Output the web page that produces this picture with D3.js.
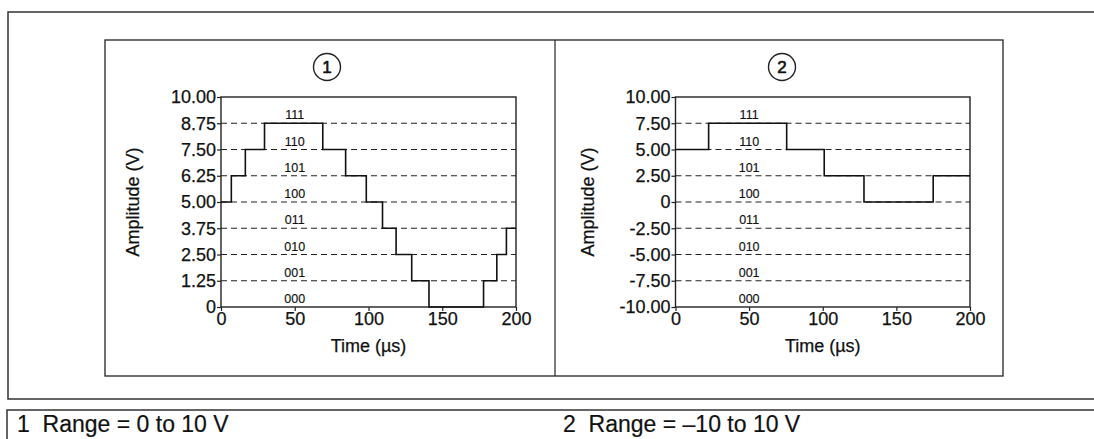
<!DOCTYPE html>
<html>
<head>
<meta charset="utf-8">
<script src="https://cdn.jsdelivr.net/npm/d3@7"></script>
<style>
  body { margin: 0; background: #fff; }
  svg text { font-family: "Liberation Sans", Arial, sans-serif; fill: #111; stroke: #111; stroke-width: 0.25px; }
</style>
</head>
<body>
<div id="chart"></div>
<script>
// Data
const bitCodes = ["000", "001", "010", "011", "100", "101", "110", "111"];
const xTicks = [0, 50, 100, 150, 200];

// Range 1: 0 to 10 V
const range1Ticks = [0, 1.25, 2.5, 3.75, 5, 6.25, 7.5, 8.75, 10];
const range1Times = [0, 7, 16.5, 29.5, 69, 84.5, 98.5, 109.5, 118.7, 129.3, 141, 178, 187, 193.5, 200];
const range1Levels = [5, 6.25, 7.5, 8.75, 7.5, 6.25, 5, 3.75, 2.5, 1.25, 0, 1.25, 2.5, 3.75];

// Range 2: -10 to 10 V
const range2Ticks = [-10, -7.5, -5, -2.5, 0, 2.5, 5, 7.5, 10];
const range2Times = [0, 22.5, 75.5, 101, 128, 175, 200];
const range2Levels = [5, 7.5, 5, 2.5, 0, 2.5];

const legendItems = ["1  Range = 0 to 10 V", "2  Range = \u201310 to 10 V"];

function init() {
  const svg = d3.select("#chart")
    .append("svg")
    .attr("width", 1094)
    .attr("height", 439);

  // outer frames
  svg.append("path")
    .attr("d", "M1100,12H8V399H1100")
    .attr("fill", "none").attr("stroke", "#333").attr("stroke-width", 1.5);
  svg.append("path")
    .attr("d", "M1100,410H7V445")
    .attr("fill", "none").attr("stroke", "#333").attr("stroke-width", 1.5);
  svg.append("rect")
    .attr("x", 105).attr("y", 40).attr("width", 898).attr("height", 336)
    .attr("fill", "none").attr("stroke", "#222").attr("stroke-width", 1.3);
  svg.append("line")
    .attr("x1", 555).attr("x2", 555).attr("y1", 40).attr("y2", 376)
    .attr("stroke", "#222").attr("stroke-width", 1.2);

  // legend
  svg.selectAll(".legend")
    .data(legendItems)
    .enter()
    .append("text")
    .attr("class", "legend")
    .attr("x", (d, i) => i === 0 ? 17 : 563)
    .attr("y", 432)
    .attr("xml:space", "preserve")
    .style("font-size", "23px")
    .style("stroke-width", "0.2px")
    .text(d => d);

  drawPanel(svg, {
    left: 221, right: 516, top: 97, bottom: 307,
    domain: [0, 10], ticks: range1Ticks,
    times: range1Times, levels: range1Levels,
    label: "1", circleX: 327, titleX: 133
  });
  drawPanel(svg, {
    left: 675.5, right: 970, top: 97, bottom: 307,
    domain: [-10, 10], ticks: range2Ticks,
    times: range2Times, levels: range2Levels,
    label: "2", circleX: 782, titleX: 588
  });
}

function drawPanel(svg, p) {
  const x = d3.scaleLinear().domain([0, 200]).range([p.left, p.right]);
  const y = d3.scaleLinear().domain(p.domain).range([p.bottom, p.top]);
  const g = svg.append("g");

  // dashed quantization levels
  g.selectAll(".level")
    .data(p.ticks.slice(1, -1))
    .enter()
    .append("line")
    .attr("x1", p.left).attr("x2", p.right)
    .attr("y1", d => y(d)).attr("y2", d => y(d))
    .attr("stroke", "#222")
    .attr("stroke-width", 1.2)
    .attr("stroke-dasharray", "6,4");

  // bit code labels
  g.selectAll(".code")
    .data(bitCodes)
    .enter()
    .append("text")
    .attr("x", x(50))
    .attr("y", (d, i) => y(p.ticks[i]) - 4)
    .attr("text-anchor", "middle")
    .style("font-size", "12.5px")
    .style("stroke-width", "0.15px")
    .text(d => d);

  // axes
  const fmt = d => d === 0 ? "0" : d.toFixed(2);
  const yAxis = g.append("g")
    .attr("transform", `translate(${p.left},0)`)
    .call(d3.axisLeft(y).tickValues(p.ticks).tickFormat(fmt).tickSize(4).tickPadding(1));
  const xAxis = g.append("g")
    .attr("transform", `translate(0,${p.bottom})`)
    .call(d3.axisBottom(x).tickValues(xTicks).tickSize(4).tickPadding(1));
  [xAxis, yAxis].forEach(a => {
    a.select(".domain").remove();
    a.selectAll("line").attr("stroke", "#222").attr("stroke-width", 1.2);
    a.selectAll("text")
      .style("font-size", "18px")
      .attr("fill", "#111");
  });

  // plot frame
  g.append("rect")
    .attr("x", p.left).attr("y", p.top)
    .attr("width", p.right - p.left).attr("height", p.bottom - p.top)
    .attr("fill", "none").attr("stroke", "#222").attr("stroke-width", 1.4);

  // step signal
  const pts = p.times.map((t, i) => [t, i < p.levels.length ? p.levels[i] : p.levels[p.levels.length - 1]]);
  const line = d3.line()
    .x(d => x(d[0]))
    .y(d => y(d[1]))
    .curve(d3.curveStepAfter);
  g.append("path")
    .attr("d", line(pts))
    .attr("fill", "none")
    .attr("stroke", "#111")
    .attr("stroke-width", 1.6);

  // axis titles
  g.append("text")
    .attr("x", (p.left + p.right) / 2)
    .attr("y", 352)
    .attr("text-anchor", "middle")
    .style("font-size", "18px")
    .text("Time (\u00b5s)");
  g.append("text")
    .attr("transform", `translate(${p.titleX + 6},${(p.top + p.bottom) / 2}) rotate(-90)`)
    .attr("text-anchor", "middle")
    .style("font-size", "18px")
    .text("Amplitude (V)");

  // circled panel number
  g.append("circle")
    .attr("cx", p.circleX).attr("cy", 67).attr("r", 13.5)
    .attr("fill", "none").attr("stroke", "#222").attr("stroke-width", 1.4);
  g.append("text")
    .attr("x", p.circleX).attr("y", 73)
    .attr("text-anchor", "middle")
    .style("font-size", "17px")
    .style("stroke-width", "0.6px")
    .text(p.label);
}

window.onload = init;
</script>
</body>
</html>
